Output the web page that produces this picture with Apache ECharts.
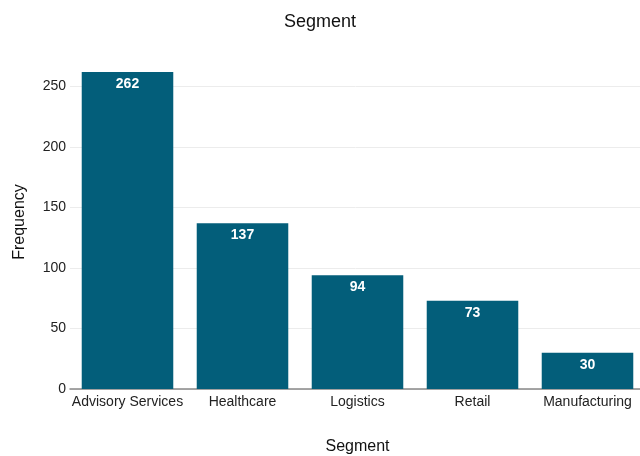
<!DOCTYPE html>
<html><head><meta charset="utf-8">
<script src="https://cdn.jsdelivr.net/npm/echarts@6/dist/echarts.min.js"></script>
<style>html,body{margin:0;padding:0;background:#fff}#c{width:640px;height:456px}</style>
</head><body><div id="c"></div>
<script>
const categories = ["Advisory Services", "Healthcare", "Logistics", "Retail", "Manufacturing"];
const frequencies = [262, 137, 94, 73, 30];
const yTicks = [0, 50, 100, 150, 200, 250];

const chart = echarts.init(document.getElementById('c'));
const font = 'Liberation Sans, Arial, Helvetica, sans-serif';
const gridColors = yTicks.map(() => '#ececec').concat(['rgba(0,0,0,0)']);
chart.setOption({
  animation: false,
  textStyle: { fontFamily: font },
  title: {
    text: 'Segment', left: 'center', top: 8,
    textStyle: { fontFamily: font, fontSize: 18, fontWeight: 'normal', color: '#111' }
  },
  grid: { left: 70, width: 575, top: 55, bottom: 67, containLabel: false, outerBoundsMode: 'none' },
  xAxis: {
    type: 'category', data: categories,
    name: 'Segment', nameLocation: 'middle', nameGap: 50,
    nameTextStyle: { fontFamily: font, fontSize: 16, color: '#111' },
    axisLine: { show: true, lineStyle: { color: '#888', width: 1.5 } },
    axisTick: { show: false },
    axisLabel: { fontFamily: font, fontSize: 14, color: '#222', margin: 6, interval: 0 }
  },
  yAxis: {
    type: 'value', min: 0, max: 276, interval: 50,
    name: 'Frequency', nameLocation: 'middle', nameGap: 42,
    nameTextStyle: { fontFamily: font, fontSize: 16, color: '#111' },
    axisLine: { show: false }, axisTick: { show: false },
    axisLabel: { fontFamily: font, fontSize: 14, color: '#222', margin: 4, showMaxLabel: false,
      formatter: v => yTicks.includes(v) ? String(v) : '' },
    splitLine: { show: true, lineStyle: { color: gridColors, width: 1 } }
  },
  series: [{
    type: 'bar', data: frequencies, barCategoryGap: '20.4%',
    itemStyle: { color: '#035e7a' },
    label: { show: true, position: 'insideTop', distance: 5, color: '#fff',
      fontFamily: font, fontSize: 14, fontWeight: 'bold' }
  }]
});
</script></body></html>
